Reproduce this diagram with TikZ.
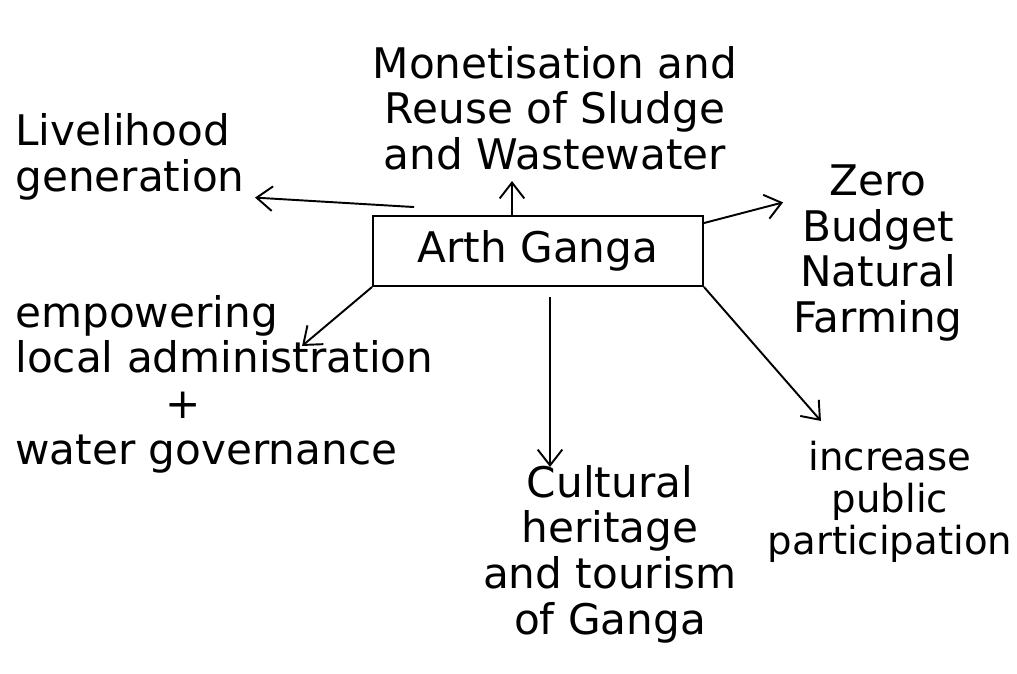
\documentclass[tikz,border=0pt]{standalone}
\usepackage{fontspec}
\setmainfont{DejaVu Sans}
\usepackage{tikz}
\usetikzlibrary{arrows.meta,calc}
\tikzstyle{gangabox} = [draw=black, line width=1.1pt, rectangle, minimum width=6.6cm, minimum height=1.4cm, inner sep=0pt, font=\fontsize{24}{26}\selectfont]
\tikzstyle{note} = [inner sep=0pt, font=\fontsize{24}{26}\selectfont]
\tikzstyle{link} = [line width=1.1pt, -{Straight Barb[length=9pt,width=14pt]}]

\begin{document}
\begin{tikzpicture}[x=0.02cm, y=-0.02cm]
\useasboundingbox (0,0) rectangle (1017,673);

% centre
\node [gangabox] (box) at (538,251) {Arth Ganga};

% the six branches
\node [note, align=center] (reuse) at (555,108) {Monetisation and\\Reuse of Sludge\\and Wastewater};
\node [note, align=left, anchor=west] (live) at (15,157) {Livelihood\\generation};
\node [note, align=center] (zbnf) at (878,253) {Zero\\Budget\\Natural\\Farming};
\node [note, align=left, anchor=west] (local) at (15,384) {empowering\\local administration\\\hspace*{3cm}+\\water governance};
\node [note, align=center] (heritage) at (610,554) {Cultural\\heritage\\and tourism\\of Ganga};
\node [note, align=center, font=\fontsize{22}{24}\selectfont] (public) at (890,502) {increase\\public\\participation};

% arrows out of the box
\draw [link] ($(box.north)+(-26,0)$) -- ($(box.north)+(-26,-34)$);
\draw [link] ($(box.north west)+(42,-8)$) -- ($(live.south east)+(10,-3)$);
\draw [link] ($(box.north east)+(0,8)$) -- ($(zbnf.north west)+(-10,38)$);
\draw [link] (box.south west) -- ($(box.south west)+(-70,59)$);
\draw [link] ($(box.south)+(12,10)$) -- ($(box.south)+(12,180)$);
\draw [link] (box.south east) -- ($(box.south east)+(117,134)$);
\end{tikzpicture}
\end{document}
